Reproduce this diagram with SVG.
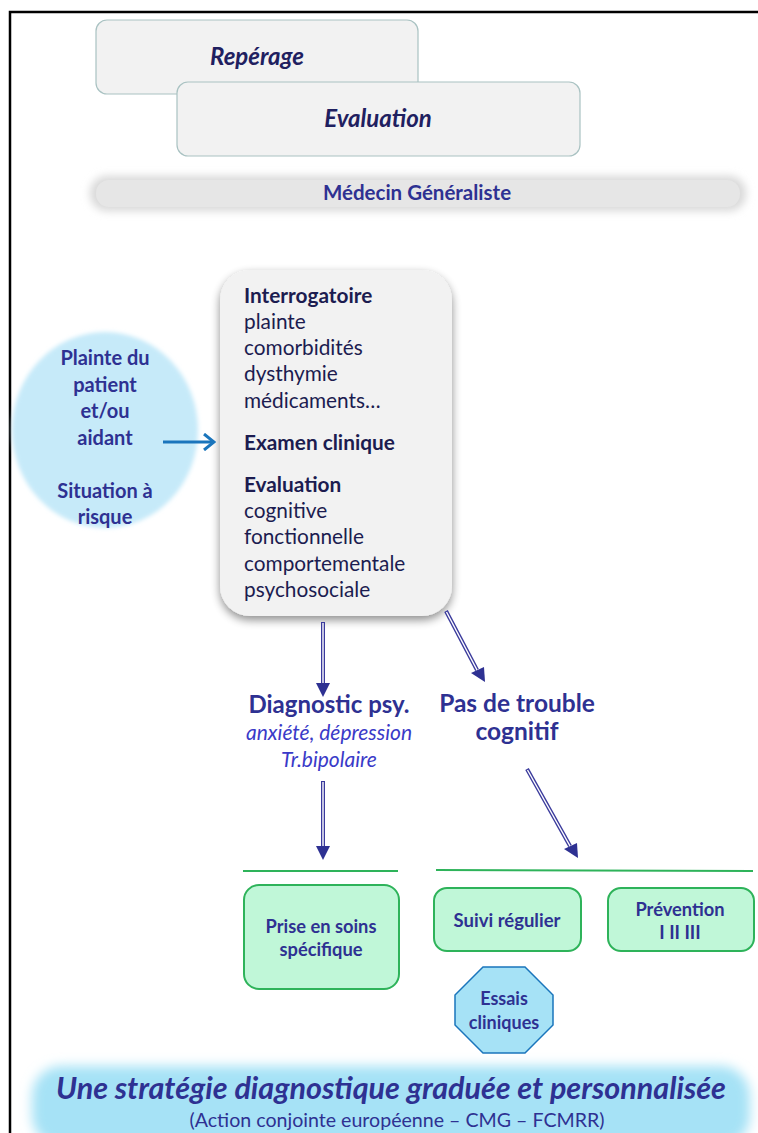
<svg xmlns="http://www.w3.org/2000/svg" width="758" height="1133" viewBox="0 0 758 1133">
<defs>
<style>
text{font-family:Lato,"Open Sans","Liberation Sans",sans-serif;}
.nav{fill:#2e3192;font-weight:bold;}
.dark{fill:#1c1c50;}
.top{fill:#f2f2f2;stroke:#a9c2c2;stroke-width:1.2;}
.green{fill:#c0f7d8;stroke:#2eb35a;stroke-width:2;}
.gl{stroke:#2eb35a;stroke-width:2;}
.dbl{stroke:#3a3a9c;stroke-width:4;fill:none;}
.dbli{stroke:#ffffff;stroke-width:1.4;fill:none;}
</style>
<filter id="shadow" x="-20%" y="-20%" width="140%" height="140%">
<feGaussianBlur in="SourceAlpha" stdDeviation="5"/>
<feOffset dx="0" dy="4" result="b"/>
<feComponentTransfer><feFuncA type="linear" slope="0.45"/></feComponentTransfer>
<feMerge><feMergeNode/><feMergeNode in="SourceGraphic"/></feMerge>
</filter>
<filter id="soft" x="-5%" y="-50%" width="110%" height="200%">
<feGaussianBlur stdDeviation="4"/>
</filter>
<filter id="soft2" x="-5%" y="-40%" width="110%" height="180%">
<feGaussianBlur stdDeviation="6"/>
</filter>
<filter id="softc" x="-10%" y="-10%" width="120%" height="120%">
<feGaussianBlur stdDeviation="2"/>
</filter>
<marker id="open" markerWidth="14" markerHeight="18" refX="12" refY="9" orient="auto" markerUnits="userSpaceOnUse">
<path d="M2,1 L12,9 L2,17" fill="none" stroke="#1a75bc" stroke-width="3"/>
</marker>
</defs>

<path d="M10,1133 L10,12 L758,12" fill="none" stroke="#000" stroke-width="2.5"/>

<g id="reperage">
<rect class="top" x="96" y="20" width="322" height="74" rx="11"/>
<text x="257" y="65" text-anchor="middle" font-size="24" font-style="italic" class="nav" style="fill:#1f2060">Repérage</text>
</g>
<g id="evaluation">
<rect class="top" x="177" y="82" width="403" height="74" rx="11"/>
<text x="378" y="127" text-anchor="middle" font-size="24" font-style="italic" class="nav" style="fill:#1f2060">Evaluation</text>
</g>
<g id="medecin">
<rect x="90" y="176" width="656" height="35" rx="17" fill="#d8d8d8" filter="url(#soft)"/>
<rect x="96" y="180" width="644" height="27" rx="13" fill="#e6e6e6"/>
<text x="417" y="200" text-anchor="middle" font-size="20.5" class="nav">Médecin Généraliste</text>
</g>

<g id="plainte">
<ellipse cx="105" cy="430" rx="93" ry="98" fill="#c6eaf9" filter="url(#softc)"/>
<g class="nav" font-size="20" text-anchor="middle">
<text x="105" y="365">Plainte du</text>
<text x="105" y="392">patient</text>
<text x="105" y="418">et/ou</text>
<text x="105" y="445">aidant</text>
<text x="105" y="498">Situation à</text>
<text x="105" y="524">risque</text>
</g>
</g>

<g id="central">
<rect x="220" y="270" width="232" height="346" rx="30" fill="#f2f2f2" filter="url(#shadow)"/>
<g class="dark" font-size="20.8">
<text x="244" y="303" font-weight="bold">Interrogatoire</text>
<text x="244" y="329">plainte</text>
<text x="244" y="355">comorbidités</text>
<text x="244" y="381">dysthymie</text>
<text x="244" y="408">médicaments…</text>
<text x="244" y="450" font-weight="bold">Examen clinique</text>
<text x="244" y="492" font-weight="bold">Evaluation</text>
<text x="244" y="518">cognitive</text>
<text x="244" y="544">fonctionnelle</text>
<text x="244" y="571">comportementale</text>
<text x="244" y="597">psychosociale</text>
</g>
</g>

<g id="diag">
<text x="329" y="713" text-anchor="middle" font-size="24" class="nav">Diagnostic psy.</text>
<text x="329" y="740" text-anchor="middle" font-size="21" font-style="italic" fill="#3a3ac8">anxiété, dépression</text>
<text x="329" y="767" text-anchor="middle" font-size="21" font-style="italic" fill="#3a3ac8">Tr.bipolaire</text>
</g>
<g id="pasdetrouble">
<text x="517" y="712" text-anchor="middle" font-size="24.5" class="nav">Pas de trouble</text>
<text x="517" y="740" text-anchor="middle" font-size="24.5" class="nav">cognitif</text>
</g>

<g id="prise">
<rect class="green" x="244" y="885" width="155" height="104" rx="15"/>
<g class="nav" font-size="18.3" text-anchor="middle">
<text x="321" y="933">Prise en soins</text>
<text x="321" y="956">spécifique</text>
</g>
</g>
<g id="suivi">
<rect class="green" x="434" y="888" width="147" height="63" rx="13"/>
<text x="507" y="927" text-anchor="middle" font-size="18.5" class="nav">Suivi régulier</text>
</g>
<g id="prevention">
<rect class="green" x="608" y="888" width="146" height="63" rx="13"/>
<g class="nav" font-size="18.3" text-anchor="middle">
<text x="680" y="916">Prévention</text>
<text x="680" y="939">I II III</text>
</g>
</g>
<g id="essais">
<polygon points="483,967 525,967 553,995 553,1025 525,1053 483,1053 455,1025 455,995" fill="#a6e2f6" stroke="#1a75bc" stroke-width="1.5"/>
<g class="nav" font-size="18" text-anchor="middle">
<text x="504" y="1005">Essais</text>
<text x="504" y="1029">cliniques</text>
</g>
</g>

<g id="bottom">
<rect x="32" y="1066" width="718" height="80" rx="30" fill="#a6e2f6" filter="url(#soft2)"/>
<text x="391" y="1099" text-anchor="middle" font-size="30.5" font-weight="bold" font-style="italic" fill="#2e3192">Une stratégie diagnostique graduée et personnalisée</text>
<text x="397" y="1127" text-anchor="middle" font-size="19.6" fill="#2e3192">(Action conjointe européenne – CMG – FCMRR)</text>
</g>

<g id="connectors">
<line x1="163" y1="442" x2="214" y2="442" stroke="#1a75bc" stroke-width="3" marker-end="url(#open)"/>
<line class="gl" x1="243" y1="871" x2="398" y2="871"/>
<line class="gl" x1="436" y1="870" x2="753" y2="871"/>
<g>
<line class="dbl" x1="323" y1="622" x2="323" y2="684"/>
<line class="dbli" x1="323" y1="623" x2="323" y2="684"/>
<path d="M316,683 L330,683 L323,697 Z" fill="#2e3192"/>
</g>
<g>
<line class="dbl" x1="446" y1="611" x2="477" y2="670"/>
<line class="dbli" x1="446.5" y1="612" x2="477" y2="670"/>
<path d="M471,673 L484,667 L485,682 Z" fill="#2e3192"/>
</g>
<g>
<line class="dbl" x1="323" y1="781" x2="323" y2="847"/>
<line class="dbli" x1="323" y1="782" x2="323" y2="847"/>
<path d="M316,846 L330,846 L323,860 Z" fill="#2e3192"/>
</g>
<g>
<line class="dbl" x1="527" y1="769" x2="570" y2="846"/>
<line class="dbli" x1="527.5" y1="770" x2="570" y2="846"/>
<path d="M564,849 L577,843 L578,858 Z" fill="#2e3192"/>
</g>
</g>
</svg>
